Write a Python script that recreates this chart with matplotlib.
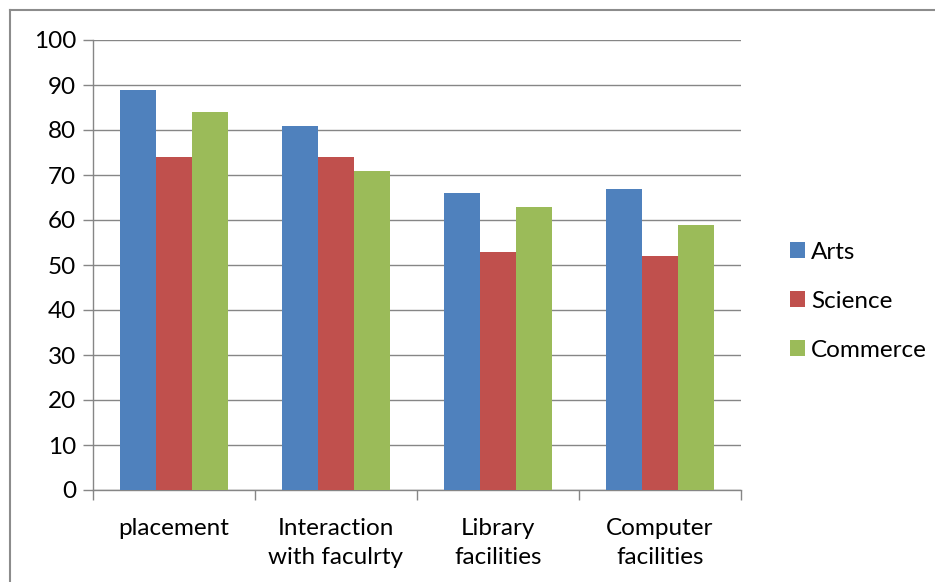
import numpy as np
import matplotlib.pyplot as plt
from matplotlib.lines import Line2D

plt.rcParams['font.family'] = ['Lato', 'DejaVu Sans']

categories = ['placement', 'Interaction\nwith faculrty', 'Library\nfacilities', 'Computer\nfacilities']
series = ['Arts', 'Science', 'Commerce']
arts = [89, 81, 66, 67]
science = [74, 74, 53, 52]
commerce = [84, 71, 63, 59]
colors = ['#4F81BD', '#C0504D', '#9BBB59']
y_ticks = list(range(0, 101, 10))

W, H = 935, 582
fs = 17.5
fig = plt.figure(figsize=(W / 100, H / 100), dpi=100)
ax = fig.add_axes([93 / W, (H - 490) / H, 648 / W, 450 / H])

x = np.arange(len(categories))
bw = 36 / 162
for i, (vals, name) in enumerate(zip([arts, science, commerce], series)):
    ax.bar(x + (i - 1) * bw, vals, width=bw, color=colors[i], label=name, zorder=3)

ax.set_xlim(-0.5, len(categories) - 0.5)
ax.set_ylim(0, 100)
ax.set_yticks(y_ticks)
ax.yaxis.grid(True, color='#868686', linewidth=1, zorder=0)
ax.set_axisbelow(True)

# category boundary ticks on x axis
ax.set_xticks(np.arange(len(categories) + 1) - 0.5)
ax.set_xticklabels([])
ax.set_xticks(x, minor=True)
ax.set_xticklabels(categories, minor=True, fontsize=fs, linespacing=1.5)
ax.tick_params(axis='x', which='minor', length=0, pad=20)
ax.tick_params(axis='x', which='major', length=7, color='#868686', width=1)
ax.tick_params(axis='y', length=7, color='#868686', width=1, labelsize=fs, pad=5)

for side in ['top', 'right']:
    ax.spines[side].set_visible(False)
for side in ['left', 'bottom']:
    ax.spines[side].set_color('#868686')
    ax.spines[side].set_linewidth(1)

fig.legend(loc='upper left', bbox_to_anchor=(780 / W, 1 - 232 / H), frameon=False,
           fontsize=fs, handlelength=0.62, handleheight=0.62, handletextpad=0.25,
           labelspacing=1.15, borderaxespad=0)

# outer chart border (left and top visible)
fig.add_artist(Line2D([10 / W, 10 / W], [0, 1 - 10 / H], color='#8c8c8c', linewidth=1.5,
                      transform=fig.transFigure))
fig.add_artist(Line2D([10 / W, 1], [1 - 10 / H, 1 - 10 / H], color='#8c8c8c', linewidth=1.5,
                      transform=fig.transFigure))

fig.savefig('out.png', dpi=100)
